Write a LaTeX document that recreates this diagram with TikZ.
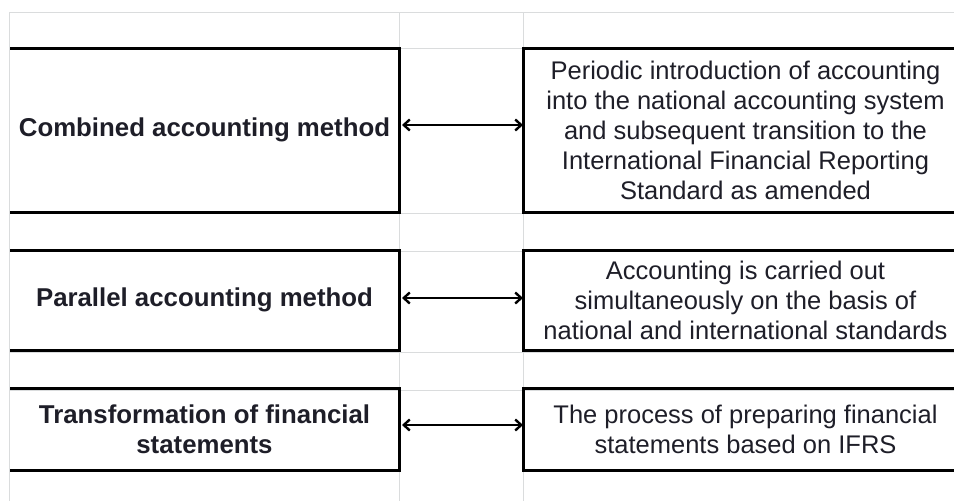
\documentclass[tikz,border=0pt]{standalone}
\usepackage{fontspec}
\setmainfont{Liberation Sans}
\usetikzlibrary{arrows.meta}
\definecolor{gridc}{HTML}{DADCDD}
\definecolor{txt}{HTML}{1E1E28}
\begin{document}
\begin{tikzpicture}[x=1pt,y=-1pt,
  gridline/.style={draw=gridc,line width=1pt},
  cell/.style={inner sep=0pt,outer sep=0pt,align=center,text=txt,
    font=\fontsize{25.5}{30}\selectfont},
  lcell/.style={cell,font=\fontsize{25.8}{30}\selectfont\bfseries},
  border/.style={line width=3pt,line join=miter},
  conn/.style={line width=2.4pt,
    {Straight Barb[length=6pt,width=11pt]}-{Straight Barb[length=6pt,width=11pt]},
    shorten <=3pt}]
\useasboundingbox (0,0) rectangle (954,501);
\clip (0,0) rectangle (954,501);
% spreadsheet grid
\foreach \yy in {12,48.5,213,251,352.5,390}
  \draw[gridline] (9.5,\yy) -- (960,\yy);
\foreach \xx in {9.5,399.5,523}
  \draw[gridline] (\xx,12) -- (\xx,510);
% left cells
\node[lcell,minimum width=389,minimum height=163.5] (L1) at (204.5,130.25) {Combined accounting method};
\node[lcell,minimum width=389,minimum height=100.5] (L2) at (204.5,300.25) {Parallel accounting method};
\node[lcell,minimum width=389,minimum height=82] (L3) at (204.5,429.5) {Transformation of financial\\statements};
% right cells
\node[cell,minimum width=445,minimum height=163.5] (R1) at (745.5,130.25) {Periodic introduction of accounting\\into the national accounting system\\and subsequent transition to the\\International Financial Reporting\\Standard as amended};
\node[cell,minimum width=445,minimum height=100.5] (R2) at (745.5,300.25) {Accounting is carried out\\simultaneously on the basis of\\national and international standards};
\node[cell,minimum width=445,minimum height=82] (R3) at (745.5,429.5) {The process of preparing financial\\statements based on IFRS};
% borders
\foreach \n in {L1,L2,L3}
  \draw[border] (\n.north west) -- (\n.north east) -- (\n.south east) -- (\n.south west);
\foreach \n in {R1,R2,R3}
  \draw[border] (\n.north east) -- (\n.north west) -- (\n.south west) -- (\n.south east);
% connectors
\draw[conn] ([yshift=5.25pt]L1.east) -- ([yshift=5.25pt]R1.west);
\draw[conn] ([yshift=2.25pt]L2.east) -- ([yshift=2.25pt]R2.west);
\draw[conn] ([yshift=4.5pt]L3.east) -- ([yshift=4.5pt]R3.west);
\end{tikzpicture}
\end{document}
